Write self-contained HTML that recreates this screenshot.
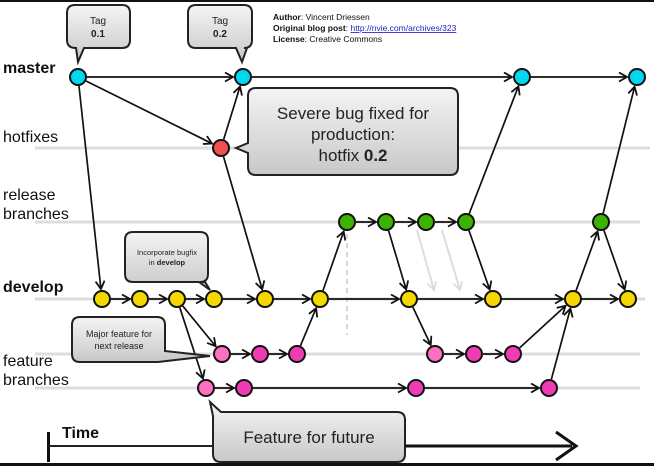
<!DOCTYPE html>
<html><head><meta charset="utf-8"><style>
html,body{margin:0;padding:0;background:#fff;}
svg{display:block;font-family:"Liberation Sans",sans-serif;}
</style></head><body>
<svg id="s" width="654" height="466" viewBox="0 0 654 466" xmlns="http://www.w3.org/2000/svg">
<defs>
<marker id="ah" markerWidth="12" markerHeight="12" refX="9" refY="5" orient="auto" markerUnits="userSpaceOnUse">
<path d="M1,0.5 L9,5 L1,9.5" fill="none" stroke="#111" stroke-width="1.8"/>
</marker>
<marker id="ahg" markerWidth="12" markerHeight="12" refX="9" refY="5" orient="auto" markerUnits="userSpaceOnUse">
<path d="M1,0.5 L9,5 L1,9.5" fill="none" stroke="#ddd" stroke-width="1.8"/>
</marker>
<linearGradient id="bg" x1="0" y1="0" x2="0" y2="1"><stop offset="0" stop-color="#f4f4f4"/><stop offset="1" stop-color="#c8c8c8"/></linearGradient>
</defs>
<rect x="0" y="0" width="654" height="2" fill="#111"/>
<rect x="0" y="463" width="654" height="3" fill="#111"/>
<g stroke="#ddd" stroke-width="3">
<line x1="35" y1="148" x2="650" y2="148"/>
<line x1="35" y1="222" x2="640" y2="222"/>
<line x1="35" y1="299" x2="645" y2="299"/>
<line x1="35" y1="354" x2="640" y2="354"/>
<line x1="35" y1="388" x2="640" y2="388"/>
</g>
<line x1="347" y1="234" x2="347" y2="335" stroke="#ccc" stroke-width="1.5" stroke-dasharray="5,4"/>
<line x1="417" y1="230" x2="434" y2="290" stroke="#ddd" stroke-width="2" marker-end="url(#ahg)"/>
<line x1="442" y1="230" x2="460" y2="290" stroke="#ddd" stroke-width="2" marker-end="url(#ahg)"/>
<g fill="#111" font-size="16">
<text x="3" y="73" font-weight="bold">master</text>
<text x="3" y="142">hotfixes</text>
<text x="3" y="200">release</text>
<text x="3" y="219">branches</text>
<text x="3" y="292" font-weight="bold">develop</text>
<text x="3" y="366">feature</text>
<text x="3" y="385">branches</text>
</g>
<g font-size="8.5" fill="#111">
<text x="273" y="20"><tspan font-weight="bold">Author</tspan>: Vincent Driessen</text>
<text x="273" y="31"><tspan font-weight="bold">Original blog post</tspan>: <tspan fill="#22c" text-decoration="underline">http://nvie.com/archives/323</tspan></text>
<text x="273" y="42"><tspan font-weight="bold">License</tspan>: Creative Commons</text>
</g>
<g id="edges" stroke="#111" stroke-width="1.7" fill="none"></g>
<g id="nodes" stroke="#111" stroke-width="2"></g>
<g stroke="#222" stroke-width="2" fill="url(#bg)">
<path d="M75,5 H122 Q130,5 130,13 V40 Q130,48 122,48 H84 L78,62 L76,48 Q67,48 67,40 V13 Q67,5 75,5 Z"/>
<path d="M196,5 H244 Q252,5 252,13 V40 Q252,48 244,48 H247 L242,62 L236,48 H196 Q188,48 188,40 V13 Q188,5 196,5 Z"/>
<path d="M256,88 H450 Q458,88 458,96 V167 Q458,175 450,175 H256 Q248,175 248,167 V153 L236,148 L248,143 V96 Q248,88 256,88 Z"/>
<path d="M133,232 H200 Q208,232 208,240 V274 Q208,282 200,282 H205 L210,290 L199,282 H133 Q125,282 125,274 V240 Q125,232 133,232 Z"/>
<path d="M80,317 H157 Q165,317 165,325 V351 L210,356 L158,362 H80 Q72,362 72,354 V325 Q72,317 80,317 Z"/>
<path d="M221,412 H397 Q405,412 405,420 V454 Q405,462 397,462 H221 Q213,462 213,454 V416 L210,402 L221,412 Z"/>
</g>
<g fill="#222" text-anchor="middle">
<text x="98" y="24" font-size="10">Tag</text>
<text x="98" y="37" font-size="10" font-weight="bold">0.1</text>
<text x="220" y="24" font-size="10">Tag</text>
<text x="220" y="37" font-size="10" font-weight="bold">0.2</text>
<text x="353" y="119" font-size="17">Severe bug fixed for</text>
<text x="353" y="140" font-size="17">production:</text>
<text x="353" y="161" font-size="17">hotfix <tspan font-weight="bold">0.2</tspan></text>
<text x="167" y="255" font-size="7.5">Incorporate bugfix</text>
<text x="167" y="265" font-size="7.5">in <tspan font-weight="bold">develop</tspan></text>
<text x="119" y="337" font-size="9">Major feature for</text>
<text x="119" y="349" font-size="9">next release</text>
<text x="309" y="443" font-size="17">Feature for future</text>
</g>
<text x="62" y="438" font-size="16" font-weight="bold" fill="#111">Time</text>
<rect x="47" y="432" width="3" height="30" fill="#111"/>
<line x1="48" y1="446" x2="213" y2="446" stroke="#222" stroke-width="2"/>
<line x1="405" y1="446" x2="572" y2="446" stroke="#111" stroke-width="3"/>
<path d="M556,432 L576,446 L556,460" fill="none" stroke="#111" stroke-width="3"/>
<script>
var N={m1:[78,77,'#00d8f0'],m2:[243,77,'#00d8f0'],m3:[522,77,'#00d8f0'],m4:[637,77,'#00d8f0'],
h1:[221,148,'#f05050'],
r1:[347,222,'#3bb400'],r2:[386,222,'#3bb400'],r3:[426,222,'#3bb400'],r4:[466,222,'#3bb400'],r5:[601,222,'#3bb400'],
d1:[102,299,'#f5d800'],d2:[140,299,'#f5d800'],d3:[177,299,'#f5d800'],d4:[214,299,'#f5d800'],d5:[265,299,'#f5d800'],d6:[320,299,'#f5d800'],d7:[409,299,'#f5d800'],d8:[493,299,'#f5d800'],d9:[573,299,'#f5d800'],d10:[628,299,'#f5d800'],
a1:[222,354,'#ff6ec0'],a2:[260,354,'#f03cb4'],a3:[297,354,'#f03cb4'],a4:[435,354,'#ff6ec0'],a5:[474,354,'#f03cb4'],a6:[513,354,'#f03cb4'],
b1:[206,388,'#ff6ec0'],b2:[244,388,'#f03cb4'],b3:[416,388,'#f03cb4'],b4:[549,388,'#f03cb4']};
var E=[['m1','m2'],['m2','m3'],['m3','m4'],['m1','h1'],['h1','m2'],['h1','d5'],['m1','d1'],
['d1','d2'],['d2','d3'],['d3','d4'],['d4','d5'],['d5','d6'],['d6','d7'],['d7','d8'],['d8','d9'],['d9','d10'],
['d3','a1'],['d3','b1'],['a1','a2'],['a2','a3'],['a3','d6'],['d6','r1'],['r1','r2'],['r2','r3'],['r3','r4'],
['r2','d7'],['r4','d8'],['r4','m3'],['d7','a4'],['a4','a5'],['a5','a6'],['a6','d9'],
['b1','b2'],['b2','b3'],['b3','b4'],['b4','d9'],['d9','r5'],['r5','m4'],['r5','d10']];
var ns='http://www.w3.org/2000/svg',eg=document.getElementById('edges'),ng=document.getElementById('nodes');
E.forEach(function(e){var a=N[e[0]],b=N[e[1]],dx=b[0]-a[0],dy=b[1]-a[1],L=Math.sqrt(dx*dx+dy*dy),ux=dx/L,uy=dy/L;
var l=document.createElementNS(ns,'line');l.setAttribute('x1',a[0]+ux*9);l.setAttribute('y1',a[1]+uy*9);
l.setAttribute('x2',b[0]-ux*10);l.setAttribute('y2',b[1]-uy*10);l.setAttribute('marker-end','url(#ah)');eg.appendChild(l);});
for(var k in N){var c=document.createElementNS(ns,'circle');c.setAttribute('cx',N[k][0]);c.setAttribute('cy',N[k][1]);c.setAttribute('r',8);c.setAttribute('fill',N[k][2]);ng.appendChild(c);}
</script>
</svg>
</body></html>
